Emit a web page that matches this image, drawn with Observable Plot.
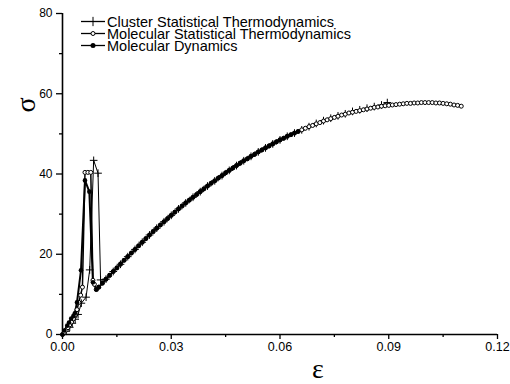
<!DOCTYPE html>
<html>
<head>
<meta charset="utf-8">
<script src="https://cdn.jsdelivr.net/npm/d3@7"></script>
<script src="https://cdn.jsdelivr.net/npm/@observablehq/plot@0.6"></script>
<style>
  html, body { margin: 0; padding: 0; background: #fff; }
  #chart svg { display: block; }
</style>
</head>
<body>
<div id="chart"></div>
<script>
// ---- Data ----
const xTicks = [0, 0.03, 0.06, 0.09, 0.12];
const xMinor = [0.015, 0.045, 0.075, 0.105];
const yTicks = [0, 20, 40, 60, 80];
const yMinor = [10, 30, 50, 70];

const seriesNames = [
  "Cluster Statistical Thermodynamics",
  "Molecular Statistical Thermodynamics",
  "Molecular Dynamics"
];

// Cluster Statistical Thermodynamics (plus markers)
const clEps = [0, 0.001, 0.002, 0.0027, 0.0035, 0.0043, 0.0052, 0.0065, 0.0075, 0.0086, 0.0098, 0.0105,
  0.012, 0.014, 0.016, 0.018, 0.020, 0.022, 0.024, 0.026, 0.028, 0.030, 0.032, 0.034, 0.036, 0.038,
  0.040, 0.042, 0.044, 0.046, 0.048, 0.050, 0.052, 0.054, 0.056, 0.058, 0.060, 0.062, 0.064, 0.066,
  0.068, 0.070, 0.072, 0.074, 0.076, 0.078, 0.080, 0.082, 0.084, 0.086, 0.088, 0.0896];
const clSig = [0, 0.8, 1.8, 2.8, 3.8, 5.0, 7.8, 9.3, 16.1, 43.4, 40.2, 13.6,
  13.8, 15.7, 17.5, 19.4, 21.2, 23.0, 24.8, 26.5, 28.1, 29.7, 31.3, 32.8, 34.2, 35.6,
  37.0, 38.3, 39.6, 40.9, 42.1, 43.3, 44.4, 45.5, 46.5, 47.5, 48.5, 49.4, 50.2, 51.0,
  51.8, 52.6, 53.3, 53.9, 54.5, 55.0, 55.6, 56.0, 56.4, 56.8, 57.2, 57.8];

// Molecular Statistical Thermodynamics (open circles)
const msEps = [0, 0.0005, 0.001, 0.0015, 0.002, 0.0025, 0.003, 0.0035, 0.004, 0.0045, 0.005, 0.0055,
  0.0062, 0.007, 0.0078, 0.0084, 0.0088, 0.0093,
  0.010, 0.011, 0.012, 0.013, 0.014, 0.015, 0.016, 0.017, 0.018, 0.019,
  0.020, 0.021, 0.022, 0.023, 0.024, 0.025, 0.026, 0.027, 0.028, 0.029,
  0.030, 0.031, 0.032, 0.033, 0.034, 0.035, 0.036, 0.037, 0.038, 0.039,
  0.040, 0.041, 0.042, 0.043, 0.044, 0.045, 0.046, 0.047, 0.048, 0.049,
  0.050, 0.051, 0.052, 0.053, 0.054, 0.055, 0.056, 0.057, 0.058, 0.059,
  0.060, 0.061, 0.062, 0.063, 0.064, 0.065, 0.066, 0.067, 0.068, 0.069,
  0.070, 0.071, 0.072, 0.073, 0.074, 0.075, 0.076, 0.077, 0.078, 0.079,
  0.080, 0.081, 0.082, 0.083, 0.084, 0.085, 0.086, 0.087, 0.088, 0.089,
  0.090, 0.091, 0.092, 0.093, 0.094, 0.095, 0.096, 0.097, 0.098, 0.099,
  0.100, 0.101, 0.102, 0.103, 0.104, 0.105, 0.106, 0.107, 0.108, 0.109, 0.110];
const msSig = [0, 0.5, 1.1, 1.7, 2.4, 3.1, 3.9, 4.9, 6.2, 8.0, 9.8, 11.8,
  40.4, 40.4, 40.4, 13.5, 12.5, 11.2,
  11.8, 12.8, 13.8, 14.7, 15.7, 16.6, 17.5, 18.5, 19.4, 20.3,
  21.2, 22.1, 23.0, 23.9, 24.8, 25.6, 26.5, 27.3, 28.1, 28.9,
  29.7, 30.5, 31.3, 32.0, 32.8, 33.5, 34.2, 34.9, 35.6, 36.3,
  37.0, 37.7, 38.3, 39.0, 39.6, 40.3, 40.9, 41.5, 42.1, 42.7,
  43.3, 43.8, 44.4, 44.9, 45.5, 46.0, 46.5, 47.0, 47.5, 48.0,
  48.5, 48.9, 49.4, 49.8, 50.2, 50.6, 51.0, 51.4, 51.8, 52.1,
  52.5, 52.8, 53.2, 53.5, 53.8, 54.1, 54.4, 54.7, 54.9, 55.2,
  55.4, 55.6, 55.8, 56.0, 56.2, 56.4, 56.6, 56.7, 56.9, 57.0,
  57.1, 57.2, 57.3, 57.4, 57.5, 57.6, 57.6, 57.7, 57.7, 57.8,
  57.8, 57.8, 57.8, 57.7, 57.7, 57.6, 57.5, 57.4, 57.2, 57.1, 56.9];

// Molecular Dynamics (filled circles)
const mdEps = [0, 0.0005, 0.0013, 0.0018, 0.0024, 0.003, 0.0034, 0.004, 0.0051, 0.0062, 0.0074, 0.0084, 0.0094,
  0.010, 0.011, 0.012, 0.013, 0.014, 0.015, 0.016, 0.017, 0.018, 0.019,
  0.020, 0.021, 0.022, 0.023, 0.024, 0.025, 0.026, 0.027, 0.028, 0.029,
  0.030, 0.031, 0.032, 0.033, 0.034, 0.035, 0.036, 0.037, 0.038, 0.039,
  0.040, 0.041, 0.042, 0.043, 0.044, 0.045, 0.046, 0.047, 0.048, 0.049,
  0.050, 0.051, 0.052, 0.053, 0.054, 0.055, 0.056, 0.057, 0.058, 0.059,
  0.060, 0.061, 0.062, 0.063, 0.064, 0.065];
const mdSig = [0, 1.0, 2.2, 3.0, 4.0, 4.6, 5.3, 8.0, 16.0, 38.4, 35.6, 13.0, 11.2,
  11.8, 12.8, 13.8, 14.8, 15.7, 16.6, 17.6, 18.5, 19.4, 20.3,
  21.2, 22.1, 23.0, 23.9, 24.8, 25.7, 26.5, 27.3, 28.1, 28.9,
  29.7, 30.5, 31.3, 32.1, 32.8, 33.5, 34.2, 34.9, 35.6, 36.3,
  37.0, 37.7, 38.3, 39.0, 39.6, 40.3, 40.9, 41.5, 42.1, 42.7,
  43.3, 43.8, 44.4, 44.9, 45.5, 46.0, 46.5, 47.0, 47.5, 48.0,
  48.5, 48.9, 49.4, 49.8, 50.2, 50.6];

// ---- Build tables ----
const toRows = (xs, ys) => xs.map((x, i) => ({eps: x, sigma: ys[i]}));
const cl = toRows(clEps, clSig);
const ms = toRows(msEps, msSig);
const md = toRows(mdEps, mdSig);

const W = 510, H = 384;
const chart = Plot.plot({
  width: W,
  height: H,
  marginLeft: 62,
  marginRight: 13,
  marginTop: 13,
  marginBottom: 50,
  style: {fontFamily: "Arial, 'Liberation Sans', sans-serif", fontSize: "12px", color: "#000", background: "#fff"},
  x: {domain: [0, 0.12]},
  y: {domain: [0, 80]},
  marks: [
    Plot.axisX({ticks: xTicks, tickFormat: d3.format(".2f"), tickSize: 5, tickPadding: 3, strokeWidth: 1.3, label: null, fontSize: 12.5}),
    Plot.axisX({ticks: xMinor, tickFormat: () => "", tickSize: 3, strokeWidth: 1.3, label: null}),
    Plot.axisY({ticks: yTicks, tickSize: 6, tickPadding: 4, strokeWidth: 1.3, label: null, fontSize: 12}),
    Plot.axisY({ticks: yMinor, tickFormat: () => "", tickSize: 3, strokeWidth: 1.3, label: null}),
    Plot.ruleX([0], {stroke: "#000", strokeWidth: 1.6}),
    Plot.ruleY([0], {stroke: "#000", strokeWidth: 1.6}),
    Plot.line(cl, {x: "eps", y: "sigma", stroke: "#000", strokeWidth: 1}),
    Plot.line(ms, {x: "eps", y: "sigma", stroke: "#000", strokeWidth: 1.5}),
    Plot.line(md, {x: "eps", y: "sigma", stroke: "#000", strokeWidth: 2}),
    Plot.dot(cl, {x: "eps", y: "sigma", symbol: "plus", r: 2.6, stroke: "#000", strokeWidth: 1, fill: "none"}),
    Plot.dot(ms, {x: "eps", y: "sigma", r: 2, stroke: "#000", strokeWidth: 1, fill: "#fff"}),
    Plot.dot(md, {x: "eps", y: "sigma", r: 2.3, fill: "#000", stroke: "none"})
  ]
});

const svg = d3.select(chart);

// Axis titles
svg.append("text")
  .attr("transform", "translate(35,105) rotate(-90)")
  .attr("text-anchor", "middle")
  .attr("font-family", "'Liberation Serif', 'DejaVu Serif', serif")
  .attr("font-size", 28)
  .attr("fill", "#000")
  .text("σ");
svg.append("text")
  .attr("x", 318)
  .attr("y", 378)
  .attr("text-anchor", "middle")
  .attr("font-family", "'Liberation Serif', 'DejaVu Serif', serif")
  .attr("font-size", 28)
  .attr("fill", "#000")
  .text("ε");

// Legend
const legendRows = [
  {name: seriesNames[0], kind: "plus"},
  {name: seriesNames[1], kind: "open"},
  {name: seriesNames[2], kind: "filled"}
];
const lg = svg.append("g").attr("class", "legend").attr("text-anchor", "start");
legendRows.forEach((d, i) => {
  const cy = 21.5 + i * 12;
  const g = lg.append("g");
  g.append("line").attr("x1", 81).attr("x2", 105).attr("y1", cy).attr("y2", cy)
    .attr("stroke", "#000").attr("stroke-width", 1.3);
  if (d.kind === "plus") {
    g.append("path").attr("d", d3.symbol(d3.symbolPlus, 30)()).attr("transform", `translate(93,${cy})`)
      .attr("stroke", "#000").attr("fill", "none").attr("stroke-width", 1);
  } else if (d.kind === "open") {
    g.append("circle").attr("cx", 93).attr("cy", cy).attr("r", 2).attr("fill", "#fff").attr("stroke", "#000");
  } else {
    g.append("circle").attr("cx", 93).attr("cy", cy).attr("r", 2.5).attr("fill", "#000");
  }
  g.append("text").attr("x", 107).attr("y", cy).attr("dy", "0.35em")
    .attr("text-anchor", "start")
    .attr("font-family", "Arial, 'Liberation Sans', sans-serif").attr("font-size", 14.5)
    .attr("fill", "#000").text(d.name);
});

document.getElementById("chart").appendChild(chart);
</script>
</body>
</html>
